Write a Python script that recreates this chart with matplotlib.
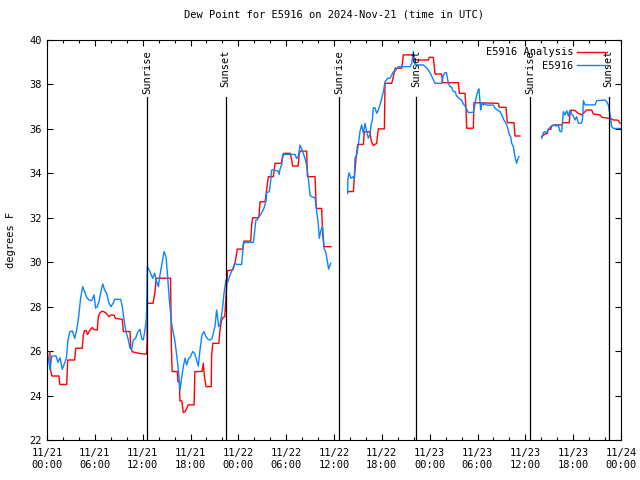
import numpy as np
import pandas as pd
import matplotlib
matplotlib.use("Agg")
import matplotlib.pyplot as plt
import matplotlib.dates as mdates

plt.rcParams['font.family'] = ['DejaVu Sans Mono']
plt.rcParams['font.size'] = 7.5

START = pd.Timestamp("2024-11-21 00:00")

# hours since 11/21 00:00 UTC, dew point (F); NaN = gap
obs_hours = [0.0, 0.05, 0.38, 0.6, 1.13, 1.38, 1.63, 1.92, 2.15, 2.43, 2.63, 2.88, 3.2, 3.47, 3.72,
             3.97, 4.22, 4.47, 4.72, 4.98, 5.27, 5.6, 5.9, 6.1, 6.3, 6.52, 6.8, 7.0, 7.22, 7.48,
             7.77, 8.03, 8.28, 8.49, 9.24, 9.45, 9.66, 9.9, 10.16, 10.41, 10.62, 10.83, 11.1, 11.41,
             11.66, 11.87, 12.08, 12.29, 12.46, 12.52, 12.58, 12.75, 13.0, 13.25, 13.5, 13.75, 13.97,
             14.17, 14.43, 14.68, 14.93, 15.1, 15.35, 15.6, 15.77, 16.02, 16.27, 16.48, 16.68, 16.85,
             17.1, 17.31, 17.52, 17.77, 18.0, 18.27, 18.52, 18.77, 18.98, 19.19, 19.44, 19.69, 19.94,
             20.2, 20.45, 20.7, 20.86, 21.07, 21.28, 21.53, 21.7, 21.87, 22.04, 22.2, 22.45, 22.7,
             22.95, 23.3, 23.58, 23.8, 24.42, 24.63, 24.8, 25.88, 26.0, 26.2, 26.35, 26.6, 26.9,
             27.2, 27.47, 27.55, 27.88, 28.05, 28.18, 28.47, 29.0, 29.12, 29.2, 29.44, 29.56, 31.1,
             31.3, 31.5, 31.62, 31.73, 31.93, 32.15, 32.36, 32.57, 32.78, 32.99, 33.2, 33.62, 33.83,
             34.04, 34.16, 34.33, 34.45, 34.58, 34.75, 35.0, 35.17, 35.33, 35.58,
             36.5,
             37.72, 37.74, 37.88, 38.13, 38.43, 38.55, 38.63, 38.85, 39.05, 39.26, 39.47, 39.68,
             39.89, 40.1, 40.3, 40.5, 40.65, 40.81, 40.93, 41.15, 41.35, 41.56, 41.77, 41.98, 42.2,
             42.4, 42.74, 43.03, 43.24, 43.45, 43.66, 44.07, 45.55, 45.75, 45.95, 46.16, 46.37, 47.2,
             47.54, 47.83, 48.12, 48.38, 48.67, 49.5, 49.7, 49.92, 50.1, 50.34, 50.55, 50.76, 50.97,
             51.18, 51.39, 51.8, 52.01, 52.22, 52.43, 52.65, 52.85, 53.48, 53.6, 53.77, 53.9, 54.1,
             54.18, 54.3, 54.4, 54.5, 54.6, 54.75, 54.85, 55.15, 55.98, 56.2, 56.49, 56.82, 57.03,
             57.32, 57.57, 57.74, 58.0, 58.16, 58.29, 58.5, 58.7, 58.91, 59.04, 59.2,
             60.5,
             62.05, 62.26, 62.47, 62.68, 62.88, 63.17, 63.5, 63.92, 64.14, 64.35, 64.56, 64.77,
             64.98, 65.19, 65.4, 65.6, 65.81, 66.02, 66.23, 66.44, 66.65, 66.86, 67.07, 67.2, 67.28,
             67.49, 68.74, 68.95, 69.99, 70.2, 70.41, 70.63, 70.83, 71.04, 72.0]
obs_dewp = [26.27, 25.97, 25.15, 25.78, 25.78, 25.5, 25.7, 25.18, 25.4, 25.67, 26.5, 26.88, 26.9,
            26.57, 26.95, 27.55, 28.38, 28.9, 28.67, 28.42, 28.3, 28.27, 28.53, 27.93, 28.0, 28.23,
            28.75, 29.02, 28.75, 28.6, 28.15, 28.0, 28.15, 28.33, 28.33, 28.0, 27.4, 26.88, 26.57,
            26.13, 26.08, 26.5, 26.57, 26.88, 26.98, 26.57, 26.5, 26.95, 27.47, 28.3, 29.8, 29.68,
            29.5, 29.28, 29.5, 29.13, 28.9, 29.43, 29.95, 30.48, 30.25, 29.5, 28.3, 27.33, 26.95,
            26.5, 25.83, 25.15, 24.25, 24.7, 25.3, 25.68, 25.38, 25.68, 25.75, 25.98, 25.9, 25.6,
            25.33, 26.05, 26.73, 26.88, 26.65, 26.53, 26.5, 26.58, 26.8, 27.13, 27.85, 27.1, 27.18,
            27.55, 28.0, 28.6, 29.2, 29.13, 29.42, 29.72, 29.95, 29.9, 29.9, 30.85, 30.89, 30.89,
            31.22, 31.9, 31.9, 32.05, 32.2, 32.42, 32.75, 33.14, 33.17, 33.65, 34.15, 34.15, 34.1,
            33.95, 34.15, 34.4, 34.85, 34.85, 34.67, 34.75, 34.97, 35.27, 35.12, 34.9, 34.67, 34.37,
            33.77, 33.02, 32.95, 32.9, 32.27, 31.67, 31.07, 31.4, 31.52, 31.6, 30.62, 30.4, 30.02,
            29.69, 29.95,
            np.nan,
            33.1, 33.7, 34.03, 33.78, 33.85, 33.75, 34.68, 34.83, 35.28, 35.88, 36.18, 35.8, 36.25,
            35.88, 35.58, 35.73, 36.18, 36.4, 36.95, 36.95, 36.7, 36.85, 37.08, 37.38, 37.68, 38.12,
            38.28, 38.28, 38.43, 38.57, 38.6, 38.8, 38.8, 38.95, 39.48, 38.88, 38.88, 38.88, 38.77,
            38.65, 38.47, 38.28, 38.05, 38.05, 38.38, 38.53, 38.53, 38.05, 37.9, 37.87, 37.68,
            37.68, 37.48, 37.33, 37.3, 37.12, 37.03, 36.88, 36.73, 36.75, 36.93, 37.3, 37.53, 37.75,
            37.8, 37.3, 36.85, 37.07, 37.18, 37.07, 37.15, 37.07, 37.07, 36.93, 36.85, 36.78, 36.63,
            36.4, 36.25, 36.1, 35.73, 35.65, 35.35, 35.2, 34.75, 34.45, 34.63, 34.75,
            np.nan,
            35.58, 35.83, 35.88, 35.83, 35.98, 36.1, 36.18, 36.13, 36.18, 35.88, 35.88, 36.78,
            36.63, 36.82, 36.58, 36.85, 36.67, 36.58, 36.4, 36.55, 36.25, 36.25, 36.28, 36.55,
            37.27, 37.08, 37.08, 37.27, 37.3, 37.22, 37.08, 36.63, 36.1, 36.02, 36.02]

ana_hours = [0.35, 0.45, 0.6, 1.5, 1.6, 2.47, 2.6, 3.47, 3.6, 4.43, 4.55, 4.7, 4.9, 5.1, 5.3, 5.7,
             5.82, 6.3, 6.44, 6.65, 6.94, 7.35, 7.77, 7.98, 8.4, 8.6, 9.45, 9.57, 10.41, 10.5, 10.7,
             11.54, 12.5, 12.56, 12.58, 13.3, 13.55, 13.7, 15.5, 15.6, 15.7, 16.35, 16.42, 16.6,
             16.68, 16.9, 17.1, 17.31, 17.5, 17.7, 18.45, 18.55, 19.45, 19.6, 19.75, 19.95, 20.6,
             20.65, 20.8, 21.55, 21.7, 21.9, 22.1, 22.3, 22.5, 22.65, 23.3, 23.45, 23.7, 23.87,
             24.55, 24.71, 25.55, 25.67, 25.8, 26.5, 26.6, 26.72, 27.35, 27.55, 27.76, 28.39, 28.6,
             29.4, 29.65, 29.7, 30.5, 30.7, 30.8, 31.5, 31.65, 31.75, 32.57, 32.66, 33.62, 33.74,
             33.8, 34.45, 34.58, 34.75, 35.6,
             36.5,
             37.72, 38.43, 38.55, 38.72, 38.97, 39.68, 39.8, 40.5, 40.7, 40.93, 41.35, 41.56, 42.32,
             42.36, 42.4, 43.24, 43.45, 43.66, 44.5, 44.7, 45.82, 45.95, 46.16, 46.37, 47.83, 47.96,
             48.46, 48.67, 49.5, 49.63, 51.6, 51.72, 52.43, 52.56, 52.64, 53.48, 53.56, 56.6, 56.74,
             57.57, 57.74, 58.58, 58.7, 59.33,
             60.5,
             62.05, 62.47, 62.75, 62.88, 63.2, 63.3, 63.7, 64.56, 64.77, 65.52, 65.6, 65.8, 66.23,
             66.65, 67.07, 67.28, 67.7, 68.33, 68.53, 69.37, 69.58, 70.41, 70.83, 71.04, 71.46,
             71.67, 71.88]
ana_dewp = [25.97, 25.15, 24.88, 24.88, 24.5, 24.5, 25.6, 25.6, 26.13, 26.13, 26.73, 26.92, 26.92,
            26.75, 26.9, 27.07, 26.98, 26.95, 27.55, 27.73, 27.8, 27.73, 27.55, 27.62, 27.62, 27.47,
            27.43, 26.88, 26.88, 26.17, 25.97, 25.9, 25.86, 26.5, 28.15, 28.15, 28.68, 29.28, 29.28,
            26.2, 25.08, 25.08, 24.63, 24.63, 23.76, 23.76, 23.23, 23.28, 23.4, 23.58, 23.58, 25.08,
            25.08, 25.45, 24.85, 24.4, 24.4, 25.83, 26.35, 26.35, 26.95, 27.4, 27.52, 27.55, 28.75,
            29.62, 29.65, 29.8, 30.2, 30.59, 30.59, 30.95, 30.95, 31.67, 32.0, 32.0, 32.12, 32.72,
            32.72, 33.25, 33.85, 33.85, 34.45, 34.45, 34.85, 34.9, 34.9, 34.6, 34.33, 34.33, 34.9,
            35.0, 35.0, 33.85, 33.85, 32.72, 32.42, 32.42, 31.22, 30.7, 30.7,
            np.nan,
            33.18, 33.18, 33.78, 34.53, 35.3, 35.3, 35.87, 35.87, 35.42, 35.25, 35.35, 36.0, 36.0,
            37.08, 38.05, 38.05, 38.35, 38.73, 38.73, 39.33, 39.33, 39.2, 39.15, 39.1, 39.1, 39.22,
            39.22, 38.47, 38.47, 38.08, 38.08, 37.6, 37.6, 36.93, 36.03, 36.03, 37.18, 37.15, 36.97,
            36.97, 36.28, 36.28, 35.68, 35.68,
            np.nan,
            35.65, 35.77, 35.8, 35.98, 35.98, 36.13, 36.18, 36.18, 36.28, 36.28, 36.7, 36.85, 36.82,
            36.7, 36.63, 36.7, 36.85, 36.85, 36.67, 36.63, 36.52, 36.48, 36.45, 36.4, 36.4, 36.37,
            36.25]

sun_labels = ["Sunrise", "Sunset", "Sunrise", "Sunset", "Sunrise", "Sunset"]
sun_hours = [12.58, 22.41, 36.67, 46.29, 60.59, 70.46]

obs_t = START + pd.to_timedelta(obs_hours, unit="h")
ana_t = START + pd.to_timedelta(ana_hours, unit="h")
sun_t = START + pd.to_timedelta(sun_hours, unit="h")

fig = plt.figure(figsize=(6.4, 4.8), dpi=100)
ax = fig.add_axes([47 / 640, 40 / 480, 574 / 640, 400 / 480])

ax.plot(ana_t, ana_dewp, color="#ff0000", lw=1.0, label="E5916 Analysis")
ax.plot(obs_t, obs_dewp, color="#0a84ff", lw=1.0, label="E5916")

# sunrise / sunset markers
for t, lab in zip(sun_t, sun_labels):
    ax.axvline(t, ymin=0, ymax=0.8575, color="black", lw=0.9)
    ax.text(t, 0.975, lab, rotation=90, ha="center", va="top",
            transform=ax.get_xaxis_transform(), fontsize=7.5)

ax.set_xlim(START, START + pd.Timedelta(hours=72))
ax.set_ylim(22, 40)
ax.set_yticks(np.arange(22, 41, 2))
ax.xaxis.set_major_locator(mdates.HourLocator(byhour=range(0, 24, 6)))
ax.xaxis.set_minor_locator(mdates.HourLocator(byhour=range(0, 24, 2)))
ax.xaxis.set_major_formatter(mdates.DateFormatter("%m/%d\n%H:%M"))
ax.tick_params(which="both", direction="in", top=True, right=True, width=0.8)
ax.tick_params(which="major", length=4.5, labelsize=7.5)
ax.tick_params(which="minor", length=2.5)
ax.tick_params(axis="x", pad=6)
for s in ax.spines.values():
    s.set_linewidth(0.8)

ax.set_title("Dew Point for E5916 on 2024-Nov-21 (time in UTC)", fontsize=7.5, pad=16)
ax.set_ylabel("degrees F", fontsize=7.5, labelpad=10)

ax.legend(loc="upper right", bbox_to_anchor=(0.985, 0.995), frameon=False,
          markerfirst=False, handlelength=2.9, handletextpad=0.35,
          borderpad=0, labelspacing=0.35, fontsize=7.5)

fig.savefig("out.png", dpi=100)
